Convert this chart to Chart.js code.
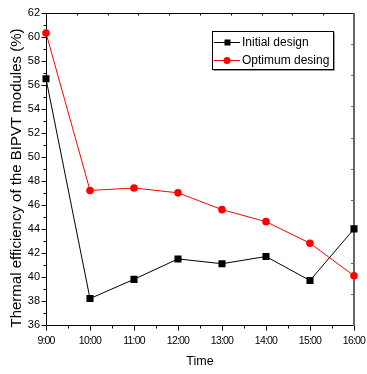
<!DOCTYPE html>
<html>
<head>
<meta charset="utf-8">
<script src="https://cdn.jsdelivr.net/npm/chart.js@4.4.1/dist/chart.umd.min.js"></script>
<style>
  html, body { margin: 0; padding: 0; background: #fff; }
</style>
</head>
<body>
<canvas id="effChart" width="367" height="374"></canvas>
<script>
// data
const timeLabels = ['9:00', '10:00', '11:00', '12:00', '13:00', '14:00', '15:00', '16:00'];
const initialDesign = [56.5, 38.2, 39.8, 41.5, 41.1, 41.7, 39.7, 44.0];
const optimumDesign = [60.3, 47.2, 47.4, 47.0, 45.6, 44.6, 42.8, 40.1];
const yTickValues = [36, 38, 40, 42, 44, 46, 48, 50, 52, 54, 56, 58, 60, 62];
const seriesNames = ['Initial design', 'Optimum desing'];

const FONT = '"Liberation Sans", Arial, Helvetica, sans-serif';

// frame, Origin-style ticks, x labels, titles and the boxed legend
const originFrame = {
  id: 'originFrame',
  beforeDatasetsDraw(chart) {
    const ctx = chart.ctx;
    const a = chart.chartArea;
    const x = chart.scales.x;
    const y = chart.scales.y;
    const L = Math.round(a.left) + 0.5;
    const B = Math.round(a.bottom) + 0.5;
    const T = Math.round(a.top) + 0.5;
    const R = Math.round(a.right);

    ctx.save();
    ctx.strokeStyle = '#000';
    ctx.lineWidth = 1;

    // left + bottom + top lines
    ctx.beginPath();
    ctx.moveTo(L, T); ctx.lineTo(L, B);
    ctx.moveTo(L, B); ctx.lineTo(R, B);
    ctx.moveTo(L, T); ctx.lineTo(R, T);
    ctx.stroke();

    // left ticks, outward
    ctx.beginPath();
    for (let v = yTickValues[0]; v <= yTickValues[yTickValues.length - 1]; v++) {
      const py = Math.round(y.getPixelForValue(v)) + 0.5;
      const len = (v % 2 === 0) ? 5 : 3;
      ctx.moveTo(L, py); ctx.lineTo(L - len, py);
    }
    // bottom ticks, outward
    for (let i = 0; i < timeLabels.length; i++) {
      const px = Math.round(x.getPixelForValue(i)) + 0.5;
      ctx.moveTo(px, B); ctx.lineTo(px, B + 5);
      if (i < timeLabels.length - 1) {
        const pm = Math.round(x.getPixelForValue(i + 0.5)) + 0.5;
        ctx.moveTo(pm, B); ctx.lineTo(pm, B + 3);
      }
    }
    // top ticks, small, inward
    for (let k = 1; k < 10; k++) {
      const px = Math.round(a.left + k * a.width / 10) + 0.5;
      ctx.moveTo(px, T); ctx.lineTo(px, T + 2);
    }
    ctx.stroke();

    // right axis, gray and a bit heavier
    ctx.strokeStyle = '#666';
    ctx.lineWidth = 2;
    ctx.beginPath();
    ctx.moveTo(R, T - 0.5); ctx.lineTo(R, B + 0.5);
    ctx.stroke();
    ctx.lineWidth = 1;
    ctx.beginPath();
    for (let k = 1; k < 10; k++) {
      const py = Math.round(a.top + k * a.height / 10) + 0.5;
      ctx.moveTo(R, py); ctx.lineTo(R - 3, py);
    }
    ctx.stroke();

    // x tick labels (narrow, like the original)
    ctx.fillStyle = '#000';
    ctx.font = '10.5px ' + FONT;
    ctx.letterSpacing = '-0.8px';
    ctx.textAlign = 'center';
    ctx.textBaseline = 'middle';
    timeLabels.forEach((lab, i) => {
      ctx.fillText(lab, x.getPixelForValue(i), B + 16);
    });
    ctx.letterSpacing = '0px';

    // axis titles
    ctx.font = '12.5px ' + FONT;
    ctx.fillText('Time', (a.left + a.right) / 2, 362);

    ctx.save();
    ctx.translate(17, 178);
    ctx.rotate(-Math.PI / 2);
    ctx.font = '15px ' + FONT;
    ctx.fillText('Thermal efficiency of the BIPVT modules (%)', 0, 0);
    ctx.restore();

    ctx.restore();
  },
  afterDatasetsDraw(chart) {
    const ctx = chart.ctx;
    ctx.save();
    // legend box with a faint shadow
    const bx = 212.5, by = 31.5, bw = 121, bh = 38;
    ctx.fillStyle = '#fff';
    ctx.fillRect(bx, by, bw, bh);
    ctx.strokeStyle = '#999';
    ctx.beginPath();
    ctx.moveTo(bx + bw + 1, by + 1); ctx.lineTo(bx + bw + 1, by + bh + 1); ctx.lineTo(bx + 1, by + bh + 1);
    ctx.stroke();
    ctx.strokeStyle = '#000';
    ctx.strokeRect(bx, by, bw, bh);

    const rows = [42.5, 60.5];
    chart.data.datasets.forEach((ds, i) => {
      const ry = rows[i];
      ctx.strokeStyle = ds.borderColor;
      ctx.fillStyle = ds.borderColor;
      ctx.lineWidth = 1;
      ctx.beginPath();
      ctx.moveTo(214, ry); ctx.lineTo(240, ry);
      ctx.stroke();
      if (ds.pointStyle === 'rect') {
        ctx.fillRect(224.5, ry - 3, 6, 6);
      } else {
        ctx.beginPath();
        ctx.arc(227, ry, 3.5, 0, Math.PI * 2);
        ctx.fill();
      }
      ctx.fillStyle = '#000';
      ctx.font = '12px ' + FONT;
      ctx.textAlign = 'left';
      ctx.textBaseline = 'middle';
      ctx.fillText(ds.label, 242, ry + 0.5);
    });
    ctx.restore();
  }
};

const ctxEff = document.getElementById('effChart').getContext('2d');
new Chart(ctxEff, {
  type: 'line',
  data: {
    labels: timeLabels,
    datasets: [
      {
        label: seriesNames[0],
        data: initialDesign,
        borderColor: '#000000',
        backgroundColor: '#000000',
        borderWidth: 1,
        pointStyle: 'rect',
        pointRadius: 5,
        pointBorderWidth: 0,
        tension: 0
      },
      {
        label: seriesNames[1],
        data: optimumDesign,
        borderColor: '#ff0000',
        backgroundColor: '#ff0000',
        borderWidth: 1,
        pointStyle: 'circle',
        pointRadius: 3.8,
        pointBorderWidth: 0,
        tension: 0
      }
    ]
  },
  options: {
    responsive: false,
    devicePixelRatio: 1,
    animation: false,
    layout: { padding: { left: 0, right: 13, top: 11, bottom: 0 } },
    plugins: {
      legend: { display: false },
      tooltip: { enabled: false }
    },
    scales: {
      x: {
        type: 'category',
        offset: false,
        grid: { display: false, drawTicks: false },
        border: { display: false },
        ticks: { display: false },
        afterFit: function(scale) { scale.height = 49; }
      },
      y: {
        min: yTickValues[0],
        max: yTickValues[yTickValues.length - 1],
        grid: { display: false, drawTicks: false, tickLength: 0 },
        border: { display: false },
        afterBuildTicks: function(scale) {
          scale.ticks = yTickValues.map(v => ({ value: v }));
        },
        ticks: {
          color: '#000',
          padding: 6,
          font: { family: FONT, size: 11 }
        },
        afterFit: function(scale) { scale.width = 46; }
      }
    }
  },
  plugins: [originFrame]
});
</script>
</body>
</html>
